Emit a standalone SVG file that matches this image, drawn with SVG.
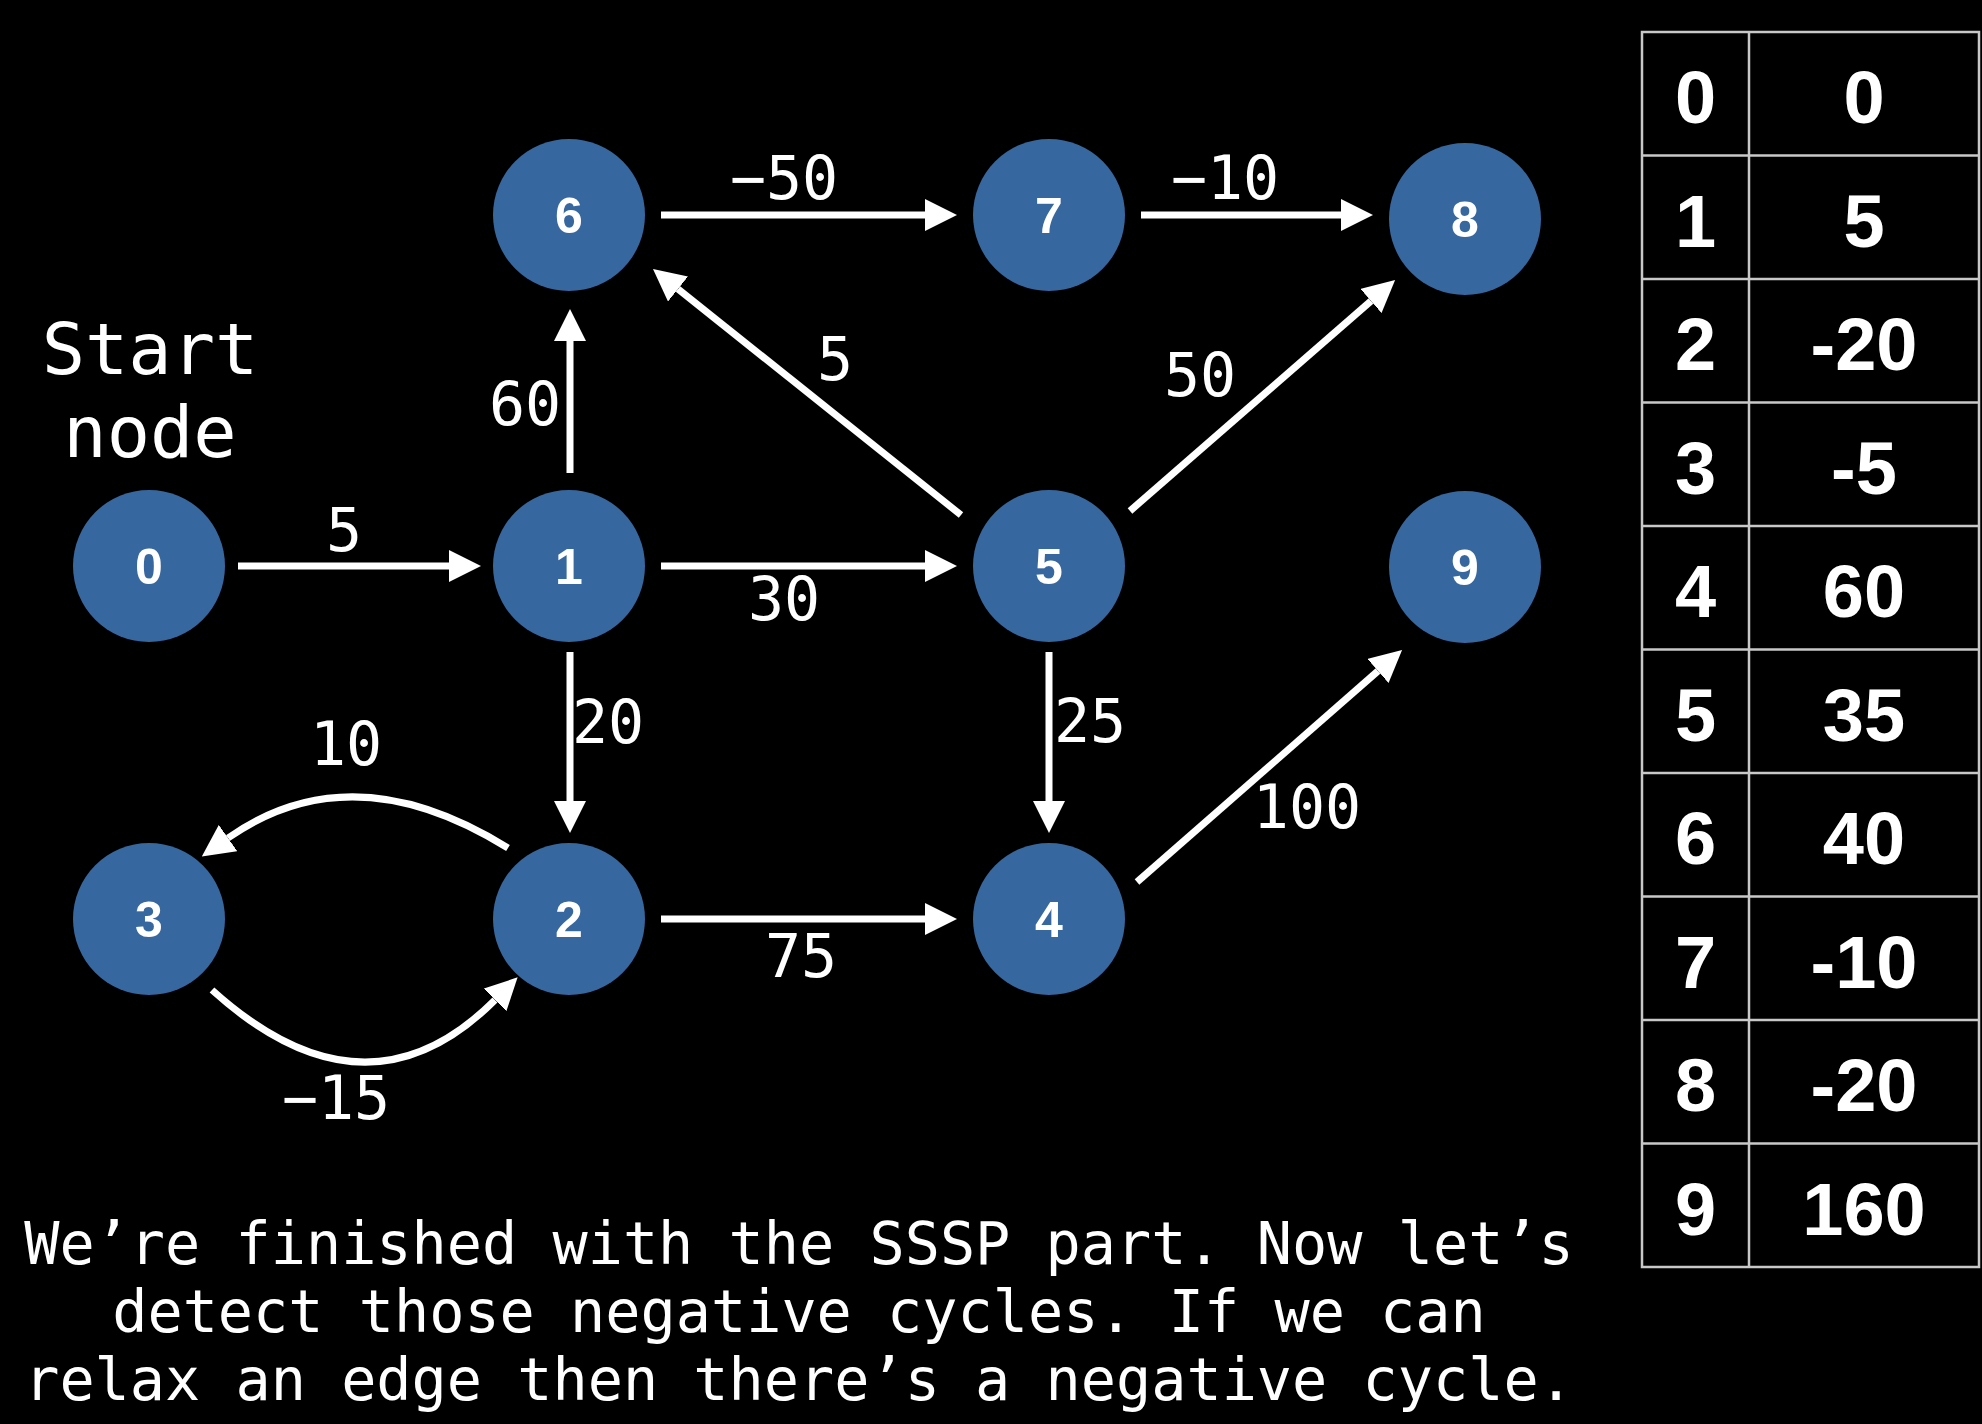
<svg xmlns="http://www.w3.org/2000/svg" width="1982" height="1424" viewBox="0 0 1982 1424">
  <defs>
    <marker id="arrow" markerUnits="userSpaceOnUse" markerWidth="32" markerHeight="32" viewBox="0 0 32 32" refX="0" refY="16" orient="auto">
      <path d="M0,0 L32,16 L0,32 z" fill="#ffffff"/>
    </marker>
    <style>
      .node circle { fill: #36679f; }
      .node text { font-family: "Liberation Sans", Arial, sans-serif; font-weight: bold; font-size: 50px; fill: #ffffff; text-anchor: middle; }
      .edge { stroke: #ffffff; stroke-width: 7; fill: none; marker-end: url(#arrow); }
      .lbl { font-family: "DejaVu Sans Mono", "Liberation Mono", monospace; font-size: 60px; fill: #ffffff; text-anchor: middle; }
      .big { font-family: "DejaVu Sans Mono", "Liberation Mono", monospace; font-size: 72px; fill: #ffffff; text-anchor: middle; }
      .note { font-family: "DejaVu Sans Mono", "Liberation Mono", monospace; font-size: 58.5px; fill: #ffffff; text-anchor: middle; }
      .tline { stroke: #c8c8c8; stroke-width: 2.5; fill: none; }
      .tcell { font-family: "Liberation Sans", Arial, sans-serif; font-weight: bold; font-size: 74px; fill: #ffffff; text-anchor: middle; }
    </style>
  </defs>
  <rect x="0" y="0" width="1982" height="1424" fill="#000000"/>

  <g id="connectors">
    <line class="edge" x1="238" y1="566" x2="449" y2="566"/>
    <line class="edge" x1="570" y1="473" x2="570" y2="341"/>
    <line class="edge" x1="661" y1="566" x2="925" y2="566"/>
    <line class="edge" x1="570" y1="652" x2="570" y2="801"/>
    <line class="edge" x1="661" y1="215" x2="925" y2="215"/>
    <line class="edge" x1="1141" y1="215" x2="1341" y2="215"/>
    <line class="edge" x1="961" y1="515" x2="678" y2="289"/>
    <line class="edge" x1="1130" y1="511" x2="1371" y2="301"/>
    <line class="edge" x1="1049" y1="652" x2="1049" y2="801"/>
    <line class="edge" x1="661" y1="919" x2="925" y2="919"/>
    <line class="edge" x1="1137" y1="882" x2="1378" y2="671"/>
    <path class="edge" d="M508,848 Q352,751 228,838"/>
    <path class="edge" d="M212,990 Q366,1129 495,1000"/>
    <text class="lbl" x="344" y="551">5</text>
    <text class="lbl" x="525" y="425">60</text>
    <text class="lbl" x="784" y="620">30</text>
    <text class="lbl" x="608" y="743">20</text>
    <text class="lbl" x="784" y="199">−50</text>
    <text class="lbl" x="1225" y="199">−10</text>
    <text class="lbl" x="835" y="380">5</text>
    <text class="lbl" x="1200" y="396">50</text>
    <text class="lbl" x="1090" y="742">25</text>
    <text class="lbl" x="801" y="977">75</text>
    <text class="lbl" x="1307" y="828">100</text>
    <text class="lbl" x="346" y="765">10</text>
    <text class="lbl" x="336" y="1119">−15</text>
  </g>

  <g id="node0" class="node"><circle cx="149" cy="566" r="76"/><text x="149" y="584">0</text></g>
  <g id="node1" class="node"><circle cx="569" cy="566" r="76"/><text x="569" y="584">1</text></g>
  <g id="node2" class="node"><circle cx="569" cy="919" r="76"/><text x="569" y="937">2</text></g>
  <g id="node3" class="node"><circle cx="149" cy="919" r="76"/><text x="149" y="937">3</text></g>
  <g id="node4" class="node"><circle cx="1049" cy="919" r="76"/><text x="1049" y="937">4</text></g>
  <g id="node5" class="node"><circle cx="1049" cy="566" r="76"/><text x="1049" y="584">5</text></g>
  <g id="node6" class="node"><circle cx="569" cy="215" r="76"/><text x="569" y="233">6</text></g>
  <g id="node7" class="node"><circle cx="1049" cy="215" r="76"/><text x="1049" y="233">7</text></g>
  <g id="node8" class="node"><circle cx="1465" cy="219" r="76"/><text x="1465" y="237">8</text></g>
  <g id="node9" class="node"><circle cx="1465" cy="567" r="76"/><text x="1465" y="585">9</text></g>

  <g id="start-label">
    <text class="big" x="150" y="374">Start</text>
    <text class="big" x="150" y="457">node</text>
  </g>

  <g id="distance-table">
    <rect class="tline" x="1642" y="32" width="337" height="1235"/>
    <line class="tline" x1="1749" y1="32" x2="1749" y2="1267"/>
    <line class="tline" x1="1642" y1="155.5" x2="1979" y2="155.5"/>
    <line class="tline" x1="1642" y1="279" x2="1979" y2="279"/>
    <line class="tline" x1="1642" y1="402.5" x2="1979" y2="402.5"/>
    <line class="tline" x1="1642" y1="526" x2="1979" y2="526"/>
    <line class="tline" x1="1642" y1="649.5" x2="1979" y2="649.5"/>
    <line class="tline" x1="1642" y1="773" x2="1979" y2="773"/>
    <line class="tline" x1="1642" y1="896.5" x2="1979" y2="896.5"/>
    <line class="tline" x1="1642" y1="1020" x2="1979" y2="1020"/>
    <line class="tline" x1="1642" y1="1143.5" x2="1979" y2="1143.5"/>
    <text class="tcell" x="1695.5" y="123">0</text><text class="tcell" x="1864" y="123">0</text>
    <text class="tcell" x="1695.5" y="246.5">1</text><text class="tcell" x="1864" y="246.5">5</text>
    <text class="tcell" x="1695.5" y="370">2</text><text class="tcell" x="1864" y="370">-20</text>
    <text class="tcell" x="1695.5" y="493.5">3</text><text class="tcell" x="1864" y="493.5">-5</text>
    <text class="tcell" x="1695.5" y="617">4</text><text class="tcell" x="1864" y="617">60</text>
    <text class="tcell" x="1695.5" y="740.5">5</text><text class="tcell" x="1864" y="740.5">35</text>
    <text class="tcell" x="1695.5" y="864">6</text><text class="tcell" x="1864" y="864">40</text>
    <text class="tcell" x="1695.5" y="987.5">7</text><text class="tcell" x="1864" y="987.5">-10</text>
    <text class="tcell" x="1695.5" y="1111">8</text><text class="tcell" x="1864" y="1111">-20</text>
    <text class="tcell" x="1695.5" y="1234.5">9</text><text class="tcell" x="1864" y="1234.5">160</text>
  </g>

  <g id="caption">
    <text class="note" x="799" y="1264">We’re finished with the SSSP part. Now let’s</text>
    <text class="note" x="799" y="1332">detect those negative cycles. If we can</text>
    <text class="note" x="799" y="1400">relax an edge then there’s a negative cycle.</text>
  </g>
</svg>
